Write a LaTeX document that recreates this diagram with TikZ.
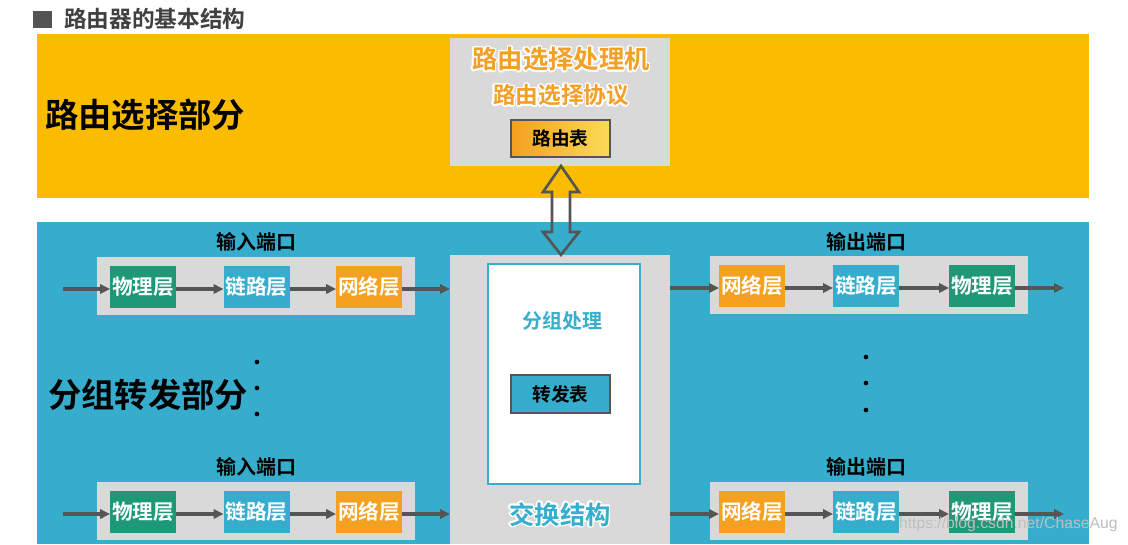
\documentclass[tikz,border=0pt]{standalone}
\usepackage{fontspec}
\setmainfont{Liberation Sans}
\newfontfamily\cjk{Noto Sans CJK SC Bold}
\usepackage{contour}
\contourlength{1.1pt}
\usetikzlibrary{arrows.meta}
\definecolor{bandY}{RGB}{251,188,0}
\definecolor{bandB}{RGB}{55,173,206}
\definecolor{boxG}{RGB}{217,217,217}
\definecolor{layG}{RGB}{30,152,118}
\definecolor{layO}{RGB}{244,160,32}
\definecolor{arrG}{RGB}{85,85,85}
\definecolor{titleG}{RGB}{64,64,64}
\definecolor{txtO}{RGB}{242,160,40}
\definecolor{txtB}{RGB}{56,174,206}
\begin{document}
\begin{tikzpicture}[x=0.75pt,y=-0.75pt,
  every node/.style={inner sep=0pt,outer sep=0pt},
  zh/.style={font=\cjk\fontsize{#1}{#1}\selectfont},
  layer/.style={minimum width=49.5pt,minimum height=31.5pt,text=white,zh=15.5pt},
  portbox/.style={fill=boxG,minimum width=238.5pt,minimum height=43.5pt},
  tablebox/.style={draw=arrG,line width=1.5pt,minimum width=74.25pt,minimum height=28pt,zh=14pt},
  flow/.style={draw=arrG,line width=2.4pt,-{Triangle[length=7.5pt,width=7pt]}},
  portlabel/.style={zh=15pt,text=black},
  dotmark/.style={circle,fill=black,minimum size=3.5pt}
]
\useasboundingbox (0,0) rectangle (1128,544);
\fill[white] (0,0) rectangle (1128,544);

% title
\fill[titleG!90] (33,11) rectangle (52,28);
\node[zh=17pt,text=titleG,anchor=west] (title) at (64,19) {路由器的基本结构};

% bands
\fill[bandY] (37,34) rectangle (1089,198);
\fill[bandB] (37,222) rectangle (1089,544);

\node[zh=25pt,anchor=west] (routepart) at (45,115) {路由选择部分};
\node[zh=25pt,anchor=west] (fwdpart) at (48,395) {分组转发部分};

% routing processor
\node[fill=boxG,minimum width=165pt,minimum height=96pt] (rp) at (560,102) {};
\node[zh=19pt,text=txtO] (rpt) at (561,60) {\contour{white}{路由选择处理机}};
\node[zh=17pt,text=txtO] (rpp) at (561,96) {\contour{white}{路由选择协议}};
\node[tablebox,left color=layO,middle color=layO,right color=layO!55!yellow!70!white] (rt) at (560.5,138.5) {路由表};

% switching fabric
\node[fill=boxG,minimum width=165pt,minimum height=217pt] (sw) at (560,399.5) {};
\node[fill=white,draw=txtB,line width=1.5pt,minimum width=114pt,minimum height=165pt] (pp) at (564,374) {};
\node[zh=15pt,text=txtB] (ppt) at (562,322) {\contour{white}{分组处理}};
\node[tablebox,fill=bandB] (ft) at (560.5,394) {转发表};
\node[zh=19pt,text=txtB] (swt) at (560,515) {\contour{white}{交换结构}};

% double arrow
\draw[arrG,line width=2pt,line join=miter]
  (rp.south -| 561,0) -- (579,192) -- (570,192) -- (570,232) -- (579,232)
  -- (sw.north -| 561,0) -- (543,232) -- (552,232) -- (552,192) -- (543,192) -- cycle;

% input ports
\foreach \r/\y/\ly in {a/286/242, b/511/467}{
  \node[portbox] (inbox\r) at (256,\y) {};
  \node[portlabel] (inlab\r) at (256,\ly) {输入端口};
  \node[layer,fill=layG] (iphy\r) at (143,\y+1) {物理层};
  \node[layer,fill=bandB] (ilnk\r) at (256.5,\y+1) {链路层};
  \node[layer,fill=layO] (inet\r) at (369,\y+1) {网络层};
  \coordinate (isrc\r) at (63,\y+3);
  \draw[flow] (isrc\r) -- (iphy\r.west |- isrc\r);
  \draw[flow] (iphy\r.east |- isrc\r) -- (ilnk\r.west |- isrc\r);
  \draw[flow] (ilnk\r.east |- isrc\r) -- (inet\r.west |- isrc\r);
  \draw[flow] (inet\r.east |- isrc\r) -- (sw.west |- isrc\r);
}

% output ports
\foreach \r/\y/\ly in {a/285/242, b/511/467}{
  \node[portbox] (outbox\r) at (868.5,\y) {};
  \node[portlabel] (outlab\r) at (866,\ly) {输出端口};
  \node[layer,fill=layO] (onet\r) at (752,\y+1) {网络层};
  \node[layer,fill=bandB] (olnk\r) at (866,\y+1) {链路层};
  \node[layer,fill=layG] (ophy\r) at (982,\y+1) {物理层};
  \coordinate (odst\r) at (1064,\y+3);
  \draw[flow] (sw.east |- odst\r) -- (onet\r.west |- odst\r);
  \draw[flow] (onet\r.east |- odst\r) -- (olnk\r.west |- odst\r);
  \draw[flow] (olnk\r.east |- odst\r) -- (ophy\r.west |- odst\r);
  \draw[flow] (ophy\r.east |- odst\r) -- (odst\r);
}

% dots
\node[dotmark] (ld1) at (257,362) {};
\node[dotmark] (ld2) at (257,388) {};
\node[dotmark] (ld3) at (257,414) {};
\node[dotmark] (rd1) at (866,357) {};
\node[dotmark] (rd2) at (866,383) {};
\node[dotmark] (rd3) at (866,410) {};

% watermark
\node[font=\fontsize{11.8pt}{11.8pt}\selectfont,text=black!25,anchor=west] (wm) at (899,524) {https://blog.csdn.net/ChaseAug};
\end{tikzpicture}
\end{document}
